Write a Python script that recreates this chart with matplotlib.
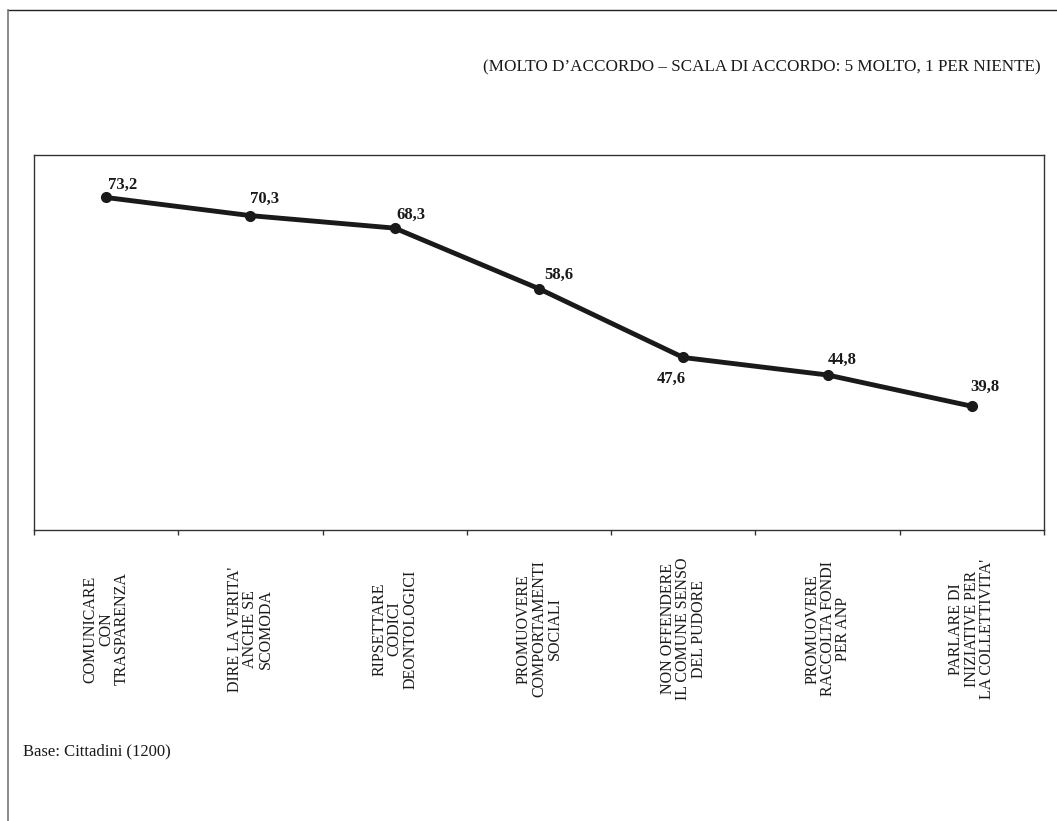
import matplotlib
matplotlib.use("Agg")
import matplotlib.pyplot as plt
from matplotlib.lines import Line2D
from matplotlib.transforms import blended_transform_factory

plt.rcParams['font.family'] = ['Liberation Serif', 'DejaVu Serif']

# data
categories = [
    "COMUNICARE\nCON\nTRASPARENZA",
    "DIRE LA VERITA'\nANCHE SE\nSCOMODA",
    "RIPSETTARE\nCODICI\nDEONTOLOGICI",
    "PROMUOVERE\nCOMPORTAMENTI\nSOCIALI",
    "NON OFFENDERE\nIL COMUNE SENSO\nDEL PUDORE",
    "PROMUOVERE\nRACCOLTA FONDI\nPER ANP",
    "PARLARE DI\nINIZIATIVE PER\nLA COLLETTIVITA'",
]
values = [73.2, 70.3, 68.3, 58.6, 47.6, 44.8, 39.8]
value_labels = ["73,2", "70,3", "68,3", "58,6", "47,6", "44,8", "39,8"]

header = "(MOLTO D\u2019ACCORDO \u2013 SCALA DI ACCORDO: 5 MOLTO, 1 PER NIENTE)"
footnote = "Base: Cittadini (1200)"

# label placement (pixels from the marker), the 47,6 one sits below
label_offsets = [(2, 9), (0, 13), (2, 9), (5, 10), (3, -25), (0, 11), (-2, 15)]

W, H = 1057, 821
fig = plt.figure(figsize=(W / 100, H / 100), dpi=100)

# outer frame (only top and left visible)
fig.add_artist(Line2D([7.5 / W, 1.0], [1 - 10.5 / H, 1 - 10.5 / H],
                      transform=fig.transFigure, color='#222222', lw=1.0))
fig.add_artist(Line2D([7.5 / W, 7.5 / W], [0.0, 1 - 10.5 / H],
                      transform=fig.transFigure, color='#777777', lw=1.2))

ax = fig.add_axes([34 / W, 1 - 530 / H, 1010 / W, 375 / H])
x = list(range(len(values)))
ax.plot(x, values, color='#1a1a1a', lw=3.5, marker='o', markersize=7,
        solid_joinstyle='round')

ax.set_xlim(-0.5, len(values) - 0.5)
ax.set_ylim(20, 80)
ax.set_xticks([i - 0.5 for i in range(len(values) + 1)])
ax.set_xticklabels([])
ax.set_yticks([])
ax.tick_params(axis='x', direction='out', length=3.6, width=1.0, color='#333333')
for sp in ax.spines.values():
    sp.set_color('#333333')
    sp.set_linewidth(1.0)

for i, (v, lab) in enumerate(zip(values, value_labels)):
    dx, dy = label_offsets[i]
    ax.annotate(lab, (i, v), xytext=(dx, dy), textcoords='offset pixels',
                ha='right' if dy < 0 else 'left', va='baseline',
                fontsize=12, fontweight='bold', color='#1a1a1a')

# rotated category labels under the axis
trans = blended_transform_factory(ax.transData, fig.transFigure)
for i, cat in enumerate(categories):
    ax.text(i, 1 - 629 / H, cat, transform=trans, rotation=90,
            ha='center', va='center', multialignment='center',
            fontsize=11.5, linespacing=0.95, color='#1a1a1a')

fig.text(1041 / W, 1 - 67 / H, header, ha='right', va='center',
         fontsize=12.3, color='#1a1a1a')
fig.text(23 / W, 1 - 751 / H, footnote, ha='left', va='center',
         fontsize=12, color='#1a1a1a')

fig.savefig('out.png', dpi=100)
